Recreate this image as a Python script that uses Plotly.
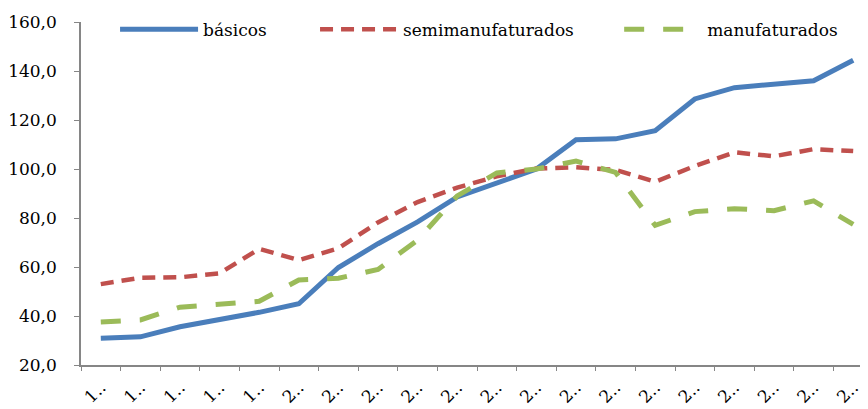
import plotly.graph_objects as go

# categories (years, labels truncated in the source chart)
years = [str(y) for y in range(1995, 2015)]
tick_labels = ["1..", "1..", "1..", "1..", "1..",
               "2..", "2..", "2..", "2..", "2..",
               "2..", "2..", "2..", "2..", "2..",
               "2..", "2..", "2..", "2..", "2.."]

basicos = [30.9, 31.5, 35.6, 38.3, 41.5, 45.0, 59.8, 69.5, 78.4, 88.6,
           94.3, 100.0, 111.9, 112.3, 115.6, 128.6, 133.2, 134.6, 136.0, 144.4]
semimanufaturados = [53.0, 55.6, 55.8, 57.4, 67.4, 62.8, 67.6, 78.2, 86.5, 92.4,
                     97.0, 100.2, 100.7, 99.6, 94.8, 101.2, 106.8, 105.2, 108.1, 107.3]
manufaturados = [37.6, 38.4, 43.6, 44.6, 46.0, 54.7, 55.4, 59.0, 71.0, 89.0,
                 98.4, 100.0, 103.2, 98.6, 77.0, 82.6, 83.8, 83.0, 87.0, 77.4]

# Times is not available, DejaVu Serif sized down to keep the same text widths
axis_font = dict(family="DejaVu Serif", size=17, color="#000000")
legend_font = dict(family="DejaVu Serif", size=17, color="#000000")

fig = go.Figure()

fig.add_trace(go.Scatter(
    x=years, y=basicos, name="básicos", mode="lines",
    line=dict(color="#4A7EBB", width=5), legend="legend"
))
fig.add_trace(go.Scatter(
    x=years, y=semimanufaturados, name="semimanufaturados", mode="lines",
    line=dict(color="#C0504D", width=4.5, dash="13px,8px"), legend="legend2"
))
fig.add_trace(go.Scatter(
    x=years, y=manufaturados, name="manufaturados", mode="lines",
    line=dict(color="#9BBB59", width=5, dash="20px,19px"), legend="legend3"
))

# one legend box per series so each entry sits where the original puts it
leg = dict(orientation="h", xanchor="left", y=1.03, yanchor="top",
           itemwidth=78, font=legend_font, bgcolor="rgba(0,0,0,0)")

# the page body adds an 8px offset, margins are set to compensate
fig.update_layout(
    width=868, height=409,
    margin=dict(l=73, r=3, t=14, b=52),
    plot_bgcolor="white", paper_bgcolor="white",
    separators=", ",
    showlegend=True,
    legend=dict(leg, x=0.043),
    legend2=dict(leg, x=0.2955),
    legend3=dict(leg, x=0.6795),
)

fig.update_xaxes(
    type="category", range=[-0.5, 19.5], automargin=False,
    tickmode="array", tickvals=years, ticktext=tick_labels,
    tickangle=-45, tickson="boundaries",
    ticks="outside", ticklen=4, tickcolor="#868686",
    showline=True, linecolor="#868686", linewidth=1.5,
    showgrid=False, tickfont=axis_font, ticklabelstandoff=4
)
fig.update_yaxes(
    range=[20, 160], dtick=20, tickformat=".1f", automargin=False,
    ticks="outside", ticklen=5, tickcolor="#868686",
    showline=True, linecolor="#868686", linewidth=1.5,
    showgrid=False, zeroline=False, tickfont=axis_font,
    ticklabelstandoff=14
)

fig.write_html("out.html")
